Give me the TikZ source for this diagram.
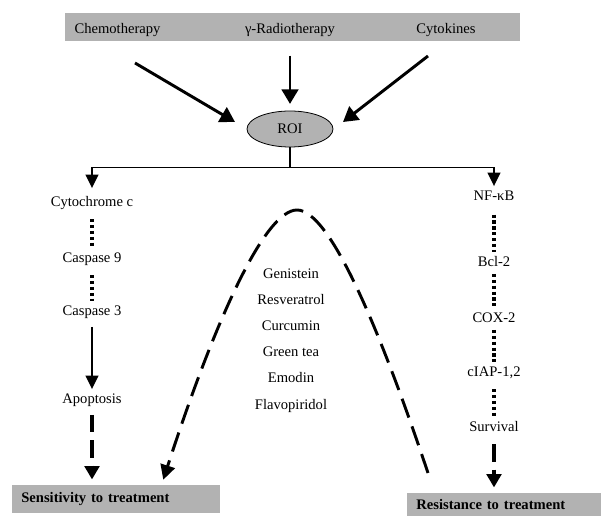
\documentclass[tikz,border=0pt,11pt]{standalone}
\usepackage{fontspec}
\setmainfont{Liberation Serif}
\usetikzlibrary{arrows.meta,shapes.geometric}

\tikzset{
  lbl/.style={inner sep=3pt, text height=8pt, text depth=2pt},
  greybar/.style={fill=black!30, inner sep=0pt},
  fat/.style={line width=2.2pt, -{Triangle[length=11pt,width=12.5pt]}},
  thinarr/.style={line width=1.1pt, -{Triangle[length=10pt,width=9.5pt]}},
  dotline/.style={line width=2.4pt, dash pattern=on 2.4pt off 2pt},
  dasharr/.style={line width=2.6pt, dash pattern=on 13pt off 6pt, -{Triangle[length=10pt,width=11pt]}},
  curvearr/.style={line width=2.2pt, dash pattern=on 15pt off 7pt, -{Triangle[length=11pt,width=11pt]}},
}

\begin{document}
\begin{tikzpicture}[x=0.75pt,y=-0.75pt]
    \useasboundingbox (0,0) rectangle (601,516);
    % treatments
    \node[greybar, minimum width=341.25pt, minimum height=21pt] (bar) at (292.5,27) {};
    \node[lbl] (chemo) at (117.5,30) {Chemotherapy};
    \node[lbl] (radio) at (290,30) {γ-Radiotherapy};
    \node[lbl] (cyto) at (446,30) {Cytokines};
    \node[ellipse, draw, fill=black!30, line width=0.6pt, minimum width=64.5pt, minimum height=27pt, inner sep=0pt] (roi) at (290,129) {ROI};
    \draw[fat] ([shift={(17.5,33)}]chemo.center) -- ([shift={(-55,-7)}]roi.center);
    \draw[fat, shorten <=11pt, shorten >=5pt] (radio) -- (roi);
    \draw[fat] ([shift={(-18,26)}]cyto.center) -- ([shift={(53,-7)}]roi.center);

    % apoptosis side
    \node[lbl] (cytc) at (92,203) {Cytochrome c};
    \node[lbl] (cas9) at (92,259) {Caspase 9};
    \node[lbl] (cas3) at (92,312) {Caspase 3};
    \node[lbl] (apop) at (92,400) {Apoptosis};
    \node[greybar, minimum width=156pt, minimum height=21pt, text width=142pt, inner xsep=7pt, align=left, font=\bfseries] (sens) at (116,499) {Sensitivity to treatment};

    % survival side
    \node[lbl] (nfkb) at (494,197) {NF-κB};
    \node[lbl] (bcl2) at (494,263) {Bcl-2};
    \node[lbl] (cox2) at (494,319) {COX-2};
    \node[lbl] (ciap) at (494,373) {cIAP-1,2};
    \node[lbl] (surv) at (494,428) {Survival};
    \node[greybar, minimum width=145.5pt, minimum height=17.25pt, text width=131.5pt, inner xsep=7pt, align=left, font=\bfseries] (res) at (504,504.5) {Resistance to treatment};

    \draw[thinarr, shorten >=3pt] (roi.south) -- ++(0,20) -| (cytc);
    \draw[thinarr] (roi.south) -- ++(0,20) -| (nfkb);

    \draw[dotline, shorten <=4pt] (cytc) -- (cas9);
    \draw[dotline, shorten <=4pt] (cas9) -- (cas3);
    \draw[thinarr, shorten <=3pt] (cas3) -- (apop);
    \draw[dasharr, shorten <=3pt, shorten >=4pt] (apop) -- (apop |- sens.north);

    \draw[dotline, shorten <=5pt] (nfkb) -- (bcl2);
    \draw[dotline] (bcl2) -- (cox2);
    \draw[dotline] (cox2) -- (ciap);
    \draw[dotline, shorten <=4pt] (ciap) -- (surv);
    \draw[dasharr, shorten <=4pt, shorten >=4pt] (surv) -- (surv |- res.north);

    % natural agents
    \foreach \d [count=\i] in {Genistein,Resveratrol,Curcumin,Green tea,Emodin,Flavopiridol}
        \node[lbl] (drug\i) at (291,{248+26.2*\i}) {\d};
    \coordinate (cend) at (428,473);
    \draw[curvearr] (cend) .. controls (380,330) and (330,210) .. (297,210)
        .. controls (265,210) and (215,320) .. ([shift={(-57,-5)}]sens.north east);
\end{tikzpicture}
\end{document}
